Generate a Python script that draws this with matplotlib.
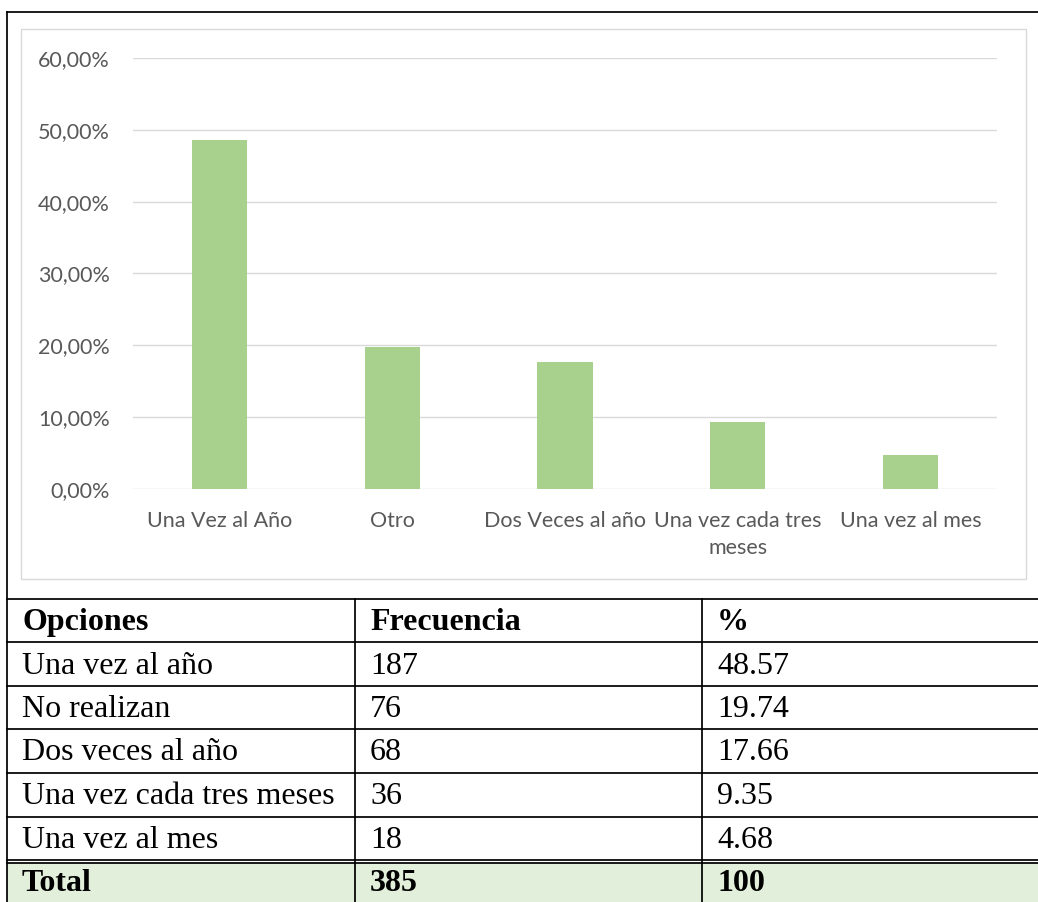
import matplotlib.pyplot as plt
import numpy as np

# chart data
categorias = ['Una Vez al Año', 'Otro', 'Dos Veces al año', 'Una vez cada tres\nmeses', 'Una vez al mes']
porcentajes = [48.57, 19.74, 17.66, 9.35, 4.68]

# table data
opciones = ['Una vez al año', 'No realizan', 'Dos veces al año', 'Una vez cada tres meses', 'Una vez al mes']
frecuencias = [187, 76, 68, 36, 18]
pct_tabla = ['48.57', '19.74', '17.66', '9.35', '4.68']
total_frec = 385
total_pct = '100'

W, H = 1038, 902
fig = plt.figure(figsize=(W / 100, H / 100), dpi=100)

# background axes in pixel units for borders and the table
bg = fig.add_axes([0, 0, 1, 1])
bg.set_xlim(0, W)
bg.set_ylim(H, 0)
bg.axis('off')

black_lw = 1.25
# outer frame
bg.plot([7, 7], [12, H], color='black', lw=black_lw)
bg.plot([7, W], [12, 12], color='black', lw=black_lw)
# chart frame
bg.add_patch(plt.Rectangle((21, 29), 1026 - 21, 579 - 29, fill=False,
                           edgecolor='#d9d9d9', lw=1.0))

# bar chart
ax = fig.add_axes([133 / W, 1 - 489 / H, (997 - 133) / W, (489 - 58) / H])
x = np.arange(len(categorias))
ax.bar(x, porcentajes, width=0.32, color='#a9d18e', zorder=3)
ax.set_xlim(-0.5, len(categorias) - 0.5)
ax.set_ylim(0, 60)
ax.set_yticks(np.arange(0, 61, 10))
ax.set_yticklabels([f'{v:.2f}%'.replace('.', ',') for v in np.arange(0, 61, 10)])
ax.set_xticks(x)
ax.set_xticklabels(categorias, linespacing=1.45)
ax.grid(axis='y', color='#d9d9d9', lw=1.0, zorder=0)
for s in ax.spines.values():
    s.set_visible(False)
ax.tick_params(length=0, labelsize=15.5, labelcolor='#595959')
ax.tick_params(axis='y', pad=16.5)
ax.tick_params(axis='x', pad=16)
for lbl in ax.get_xticklabels() + ax.get_yticklabels():
    lbl.set_fontfamily('Lato')

# table
cols = [7, 355, 702, W]
rows = [599, 642, 686, 729, 773, 817, 860, 902]
bg.add_patch(plt.Rectangle((7, 862), W - 7, H - 862, color='#e2efda', lw=0))
for y in rows[:-1]:
    bg.plot([7, W], [y, y], color='black', lw=black_lw)
bg.plot([7, W], [863, 863], color='black', lw=black_lw)
for xc in cols[1:3]:
    bg.plot([xc, xc], [599, H], color='black', lw=black_lw)

tfont = dict(family='Liberation Serif', fontsize=23, va='center', color='black')
pad = 15

def fila(i, vals, bold=False, y0=None):
    yc = (rows[i] + rows[i + 1]) / 2 + 2 if y0 is None else y0
    for j, v in enumerate(vals):
        bg.text(cols[j] + pad, yc, str(v), fontweight='bold' if bold else 'normal', **tfont)

fila(0, ['Opciones', 'Frecuencia', '%'], bold=True)
for i in range(len(opciones)):
    fila(i + 1, [opciones[i], frecuencias[i], pct_tabla[i]])
fila(6, ['Total', total_frec, total_pct], bold=True, y0=(863 + H) / 2 + 1)

fig.savefig('out.png', dpi=100)
